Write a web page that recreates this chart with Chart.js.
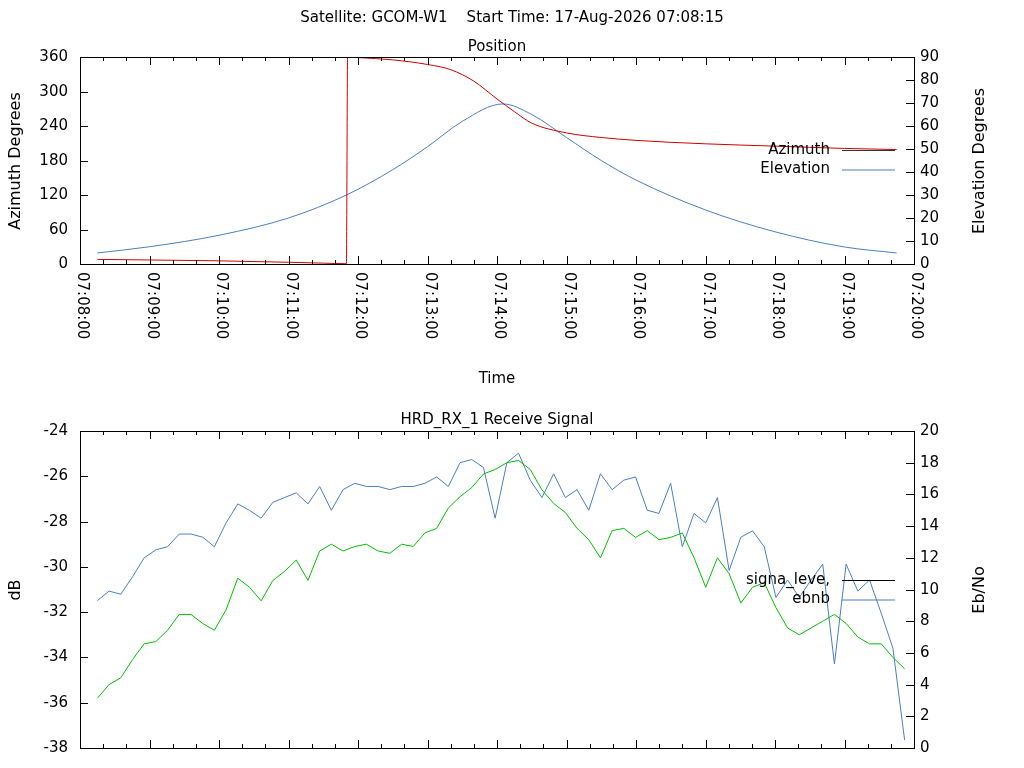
<!DOCTYPE html>
<html><head><meta charset="utf-8">
<script src="https://cdn.jsdelivr.net/npm/chart.js@4/dist/chart.umd.min.js"></script>
<style>
body{margin:0;background:#fff;width:1024px;height:768px;overflow:hidden;position:relative;font-family:"DejaVu Sans",sans-serif;}
canvas{position:absolute;left:0;}
.t{position:absolute;font-size:15px;color:#000;white-space:nowrap;}
.v{position:absolute;font-size:16px;white-space:nowrap;transform:translate(-50%,-50%) rotate(-90deg);}
</style></head><body>
<canvas id="top" style="top:0" width="1024" height="400"></canvas>
<canvas id="bot" style="top:400px" width="1024" height="368"></canvas>
<div class="t" style="left:0;width:1024px;text-align:center;top:8px">Satellite: GCOM-W1&nbsp;&nbsp;&nbsp;&nbsp;Start Time: 17-Aug-2026 07:08:15</div>
<div class="t" style="left:80px;width:834px;text-align:center;top:37px">Position</div>
<div class="t" style="left:80px;width:834px;text-align:center;top:369px">Time</div>
<div class="t" style="left:80px;width:834px;text-align:center;top:410px">HRD_RX_1 Receive Signal</div>
<div class="v" style="left:14px;top:161px">Azimuth Degrees</div>
<div class="v" style="left:978px;top:161px">Elevation Degrees</div>
<div class="v" style="left:14px;top:590px">dB</div>
<div class="v" style="left:978px;top:590px">Eb/No</div>
<script>
// Position pass data
const azTimes = ["07:08:15","07:09:00","07:10:00","07:11:00","07:11:30","07:11:50","07:11:51","07:12:00","07:12:30","07:13:00","07:13:20","07:13:40","07:14:00","07:14:15","07:14:30","07:15:00","07:15:30","07:16:00","07:17:00","07:18:00","07:19:00","07:19:45"];
const azimuth = [8,7,5.5,3,1.5,0.5,360,359,355,347,338,318,287,265,245,228,220,215,209,205,201,199];
const elTimes = ["07:08:15","07:09:00","07:10:00","07:11:00","07:11:50","07:12:30","07:13:00","07:13:30","07:14:05","07:14:30","07:15:00","07:15:30","07:16:00","07:17:00","07:18:00","07:19:00","07:19:45"];
const elevation = [4.8,7.5,12.5,20,30,41,51,62,69.6,65,55,45,36.5,23.5,14,7.4,4.8];

// Receive signal, sampled about every 10 s from 07:08:15
const sigStart = "07:08:15";
const sigStep = 10.1;
const signalLevel = [-35.8,-35.2,-34.9,-34.1,-33.4,-33.3,-32.8,-32.1,-32.1,-32.5,-32.8,-31.9,-30.5,-30.9,-31.5,-30.6,-30.2,-29.7,-30.6,-29.3,-29.0,-29.3,-29.1,-29.0,
  -29.3,-29.4,-29.0,-29.1,-28.5,-28.3,-27.4,-26.9,-26.5,-25.9,-25.7,-25.4,-25.3,-25.7,-26.6,-27.2,-27.6,-28.3,-28.8,-29.6,-28.4,-28.3,-28.7,-28.4,
  -28.8,-28.7,-28.5,-29.6,-30.9,-29.6,-30.3,-31.6,-30.9,-30.7,-31.8,-32.7,-33.0,-32.7,-32.4,-32.1,-32.5,-33.1,-33.4,-33.4,-34.0,-34.5];
const ebno = [9.3,9.9,9.7,10.8,12.0,12.5,12.7,13.5,13.5,13.3,12.7,14.2,15.4,15.0,14.5,15.5,15.8,16.1,15.4,16.5,15.0,16.3,16.7,16.5,
  16.5,16.3,16.5,16.5,16.7,17.1,16.5,18.0,18.2,17.7,14.5,18.0,18.6,16.9,15.8,17.3,15.8,16.3,15.0,17.3,16.3,16.9,17.1,15.0,
  14.8,16.7,12.7,14.8,14.2,15.8,11.2,13.3,13.7,12.7,9.5,10.6,9.5,10.6,11.6,5.3,11.6,9.9,10.6,8.5,6.3,0.5];

const T0 = 7*3600+8*60;
const sec = s => { const p = s.split(":").map(Number); return p[0]*3600+p[1]*60+p[2]-T0; };
const fmt = v => { const t = T0+v; const m = Math.floor(t/60)%60, s = t%60; return "07:"+String(m).padStart(2,"0")+":"+String(s).padStart(2,"0"); };
const FONT = '15px "DejaVu Sans"';

// gnuplot-like frame: box + inward ticks on all sides, labels drawn by hand
const framePlugin = {
  id: "frame",
  afterDraw(chart, args, o) {
    const { ctx, chartArea: a, scales } = chart;
    ctx.save();
    ctx.strokeStyle = "#000"; ctx.lineWidth = 1;
    ctx.strokeRect(a.left + .5, a.top + .5, a.right - a.left, a.bottom - a.top);
    ctx.fillStyle = "#000"; ctx.font = FONT;
    const xs = scales.x;
    for (let v = 0; v <= 720; v += 20) {
      const px = Math.round(xs.getPixelForValue(v)) + .5, len = v % 60 ? 4 : 8;
      ctx.beginPath();
      ctx.moveTo(px, a.bottom); ctx.lineTo(px, a.bottom - len);
      ctx.moveTo(px, a.top); ctx.lineTo(px, a.top + len);
      ctx.stroke();
      if (o.xLabels && v % 60 === 0) {
        ctx.save(); ctx.translate(px + 1, a.bottom + 8); ctx.rotate(Math.PI / 2);
        ctx.textAlign = "left"; ctx.textBaseline = "middle"; ctx.fillText(fmt(v), 0, 0); ctx.restore();
      }
    }
    for (const [id, step, side] of [["y", o.yStep, "l"], ["y2", o.y2Step, "r"]]) {
      const s = scales[id];
      for (let v = s.min; v <= s.max + 1e-9; v += step) {
        const py = Math.round(s.getPixelForValue(v)) + .5;
        ctx.beginPath();
        if (side === "l") { ctx.moveTo(a.left, py); ctx.lineTo(a.left + 8, py); }
        else { ctx.moveTo(a.right, py); ctx.lineTo(a.right - 8, py); }
        ctx.stroke();
        ctx.textBaseline = "middle";
        if (side === "l") { ctx.textAlign = "right"; ctx.fillText(String(v), a.left - 12, py); }
        else { ctx.textAlign = "left"; ctx.fillText(String(v), a.right + 6, py); }
      }
    }
    ctx.textAlign = "right"; ctx.textBaseline = "middle";
    o.legend.forEach((l, i) => {
      const y = o.legendY + i * 19.5;
      ctx.fillStyle = "#000"; ctx.fillText(l.label, 830, y);
      ctx.strokeStyle = l.color; ctx.beginPath(); ctx.moveTo(842, y + .5); ctx.lineTo(895, y + .5); ctx.stroke();
    });
    ctx.restore();
  }
};

function scalesFor(xh, y, y2) {
  return {
    x: { type: "linear", min: 0, max: 720, ticks: { display: false }, grid: { display: false }, border: { display: false }, afterFit: s => { s.height = xh; } },
    y: { position: "left", min: y[0], max: y[1], ticks: { display: false }, grid: { display: false }, border: { display: false }, afterFit: s => { s.width = 80; } },
    y2: { position: "right", min: y2[0], max: y2[1], ticks: { display: false }, grid: { display: false }, border: { display: false }, afterFit: s => { s.width = 110; } }
  };
}
const common = { responsive: false, animation: false, events: [], plugins: { legend: { display: false }, tooltip: { enabled: false } }, elements: { point: { radius: 0 } } };

new Chart(document.getElementById("top"), {
  type: "scatter",
  data: { datasets: [
    { data: azTimes.map((t, i) => ({ x: sec(t), y: azimuth[i] })), yAxisID: "y", showLine: true, borderColor: "#cc0000", borderWidth: 1, cubicInterpolationMode: "monotone" },
    { data: elTimes.map((t, i) => ({ x: sec(t), y: elevation[i] })), yAxisID: "y2", showLine: true, borderColor: "#4a7fc1", borderWidth: 1, cubicInterpolationMode: "monotone" }
  ] },
  options: { ...common, layout: { padding: { top: 57 } }, scales: scalesFor(136, [0, 360], [0, 90]),
    plugins: { ...common.plugins, frame: { xLabels: true, yStep: 60, y2Step: 10, legendY: 150, legend: [{ label: "Azimuth", color: "#333" }, { label: "Elevation", color: "#4a7fc1" }] } } },
  plugins: [framePlugin]
});

const s0 = sec(sigStart);
new Chart(document.getElementById("bot"), {
  type: "scatter",
  data: { datasets: [
    { data: signalLevel.map((v, i) => ({ x: s0 + i * sigStep, y: v })), yAxisID: "y", showLine: true, borderColor: "#00c000", borderWidth: 1 },
    { data: ebno.map((v, i) => ({ x: s0 + i * sigStep, y: v })), yAxisID: "y2", showLine: true, borderColor: "#4a7fc1", borderWidth: 1 }
  ] },
  options: { ...common, layout: { padding: { top: 31 } }, scales: scalesFor(20, [-38, -24], [0, 20]),
    plugins: { ...common.plugins, frame: { xLabels: false, yStep: 2, y2Step: 2, legendY: 180, legend: [{ label: "signa_leve,", color: "#000" }, { label: "ebnb", color: "#4a7fc1" }] } } },
  plugins: [framePlugin]
});
</script>
</body></html>
